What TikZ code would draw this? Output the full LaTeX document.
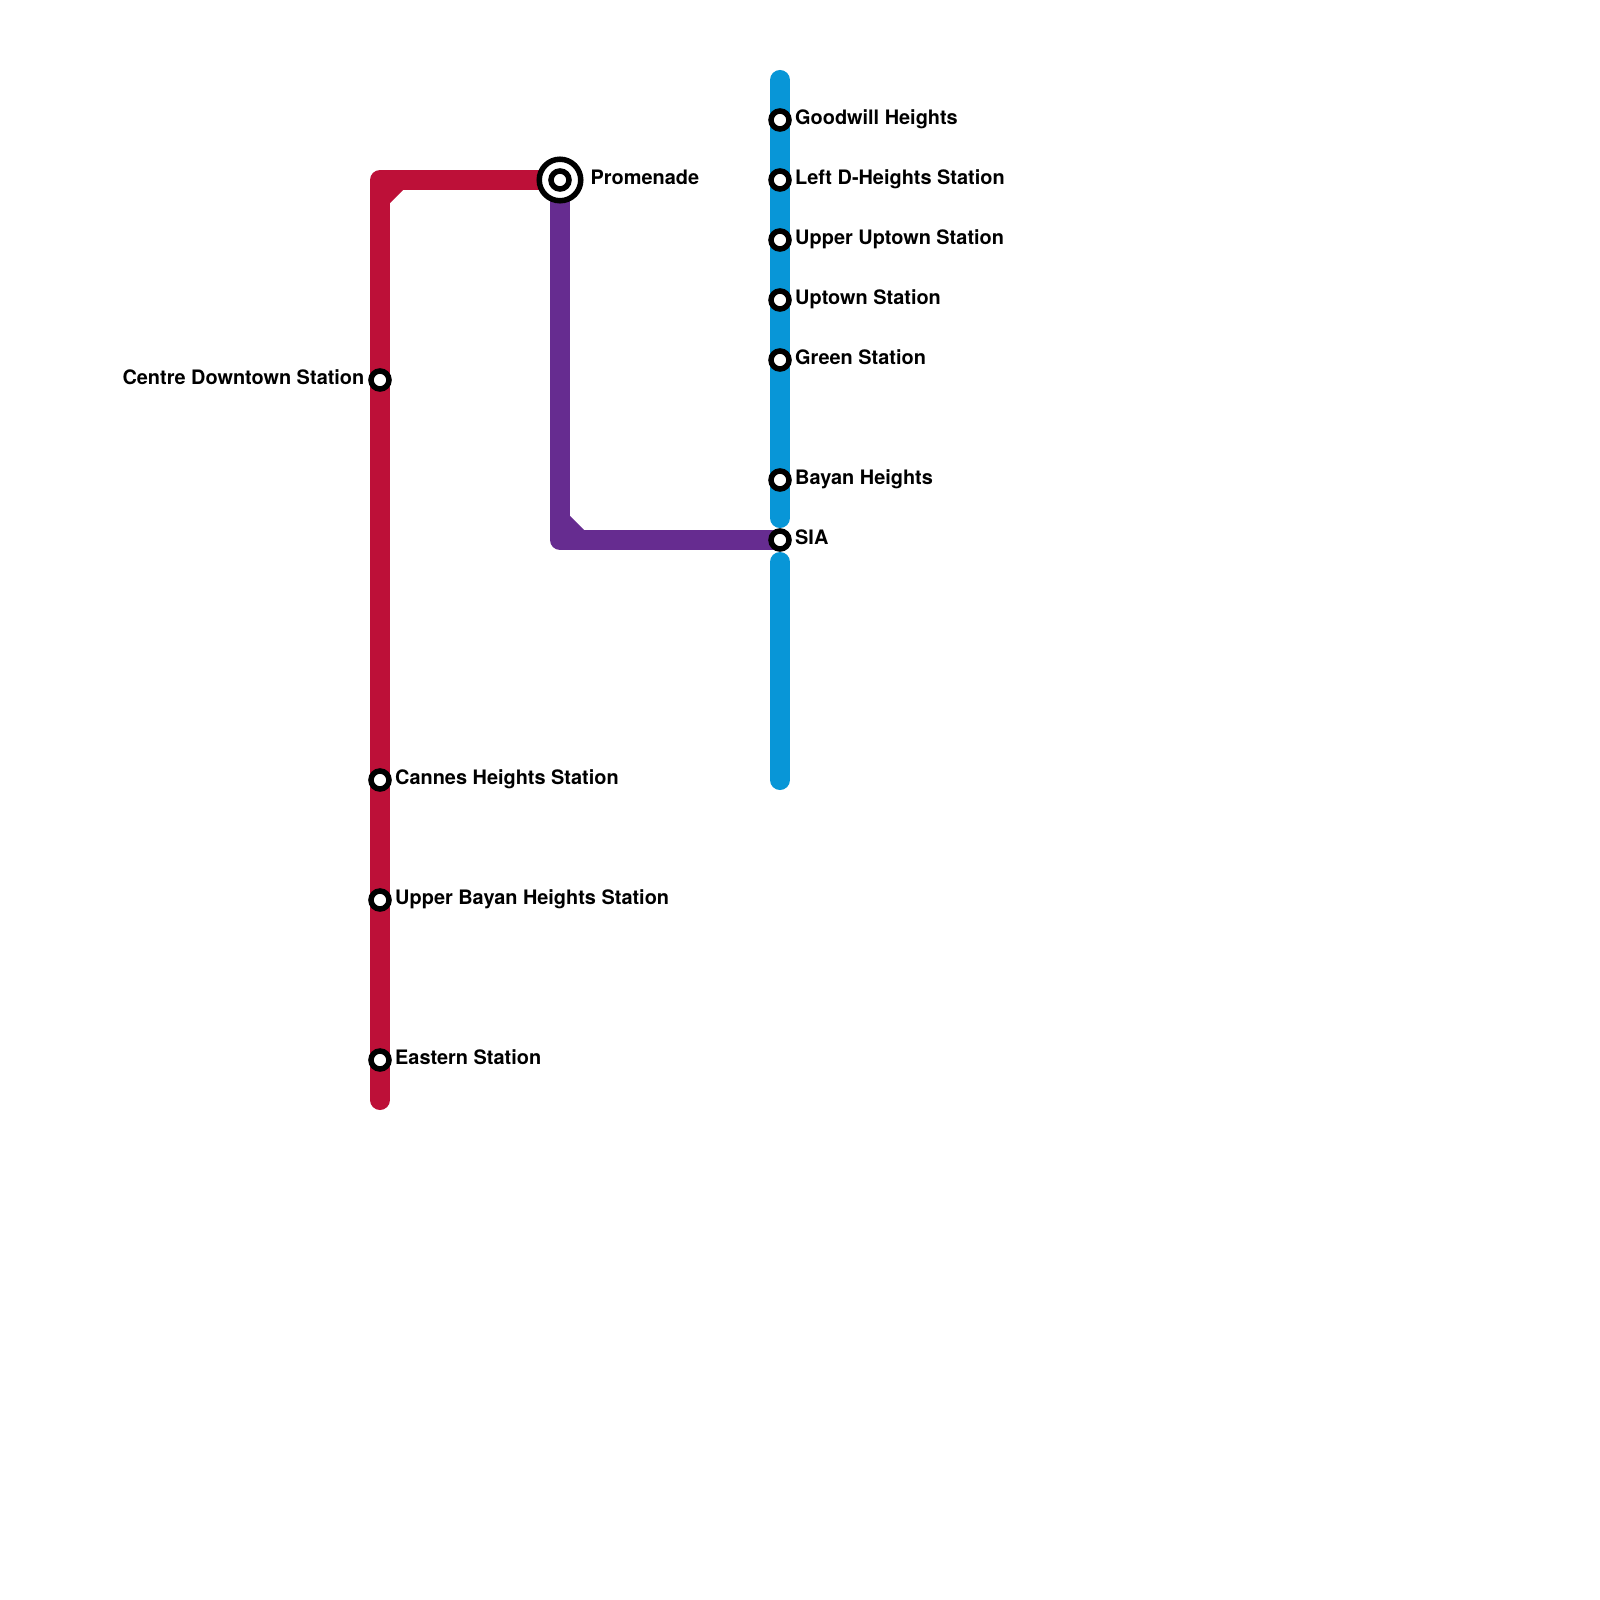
\documentclass[tikz,border=0pt]{standalone}
\usepackage{fontspec}
\setmainfont{TeX Gyre Heros}
\usepackage{xcolor}
\usetikzlibrary{backgrounds}
\definecolor{redline}{HTML}{BD1038}
\definecolor{purpleline}{HTML}{662C90}
\definecolor{blueline}{HTML}{0896D7}
\tikzset{
  stop/.style={circle, draw=black, fill=white, line width=0.055cm, minimum size=0.18cm, inner sep=0pt, outer sep=0pt},
  hub/.style={circle, draw=black, fill=white, line width=0.055cm, minimum size=0.415cm, inner sep=0pt, outer sep=0pt},
  rail/.style={line width=0.2cm, line cap=round, line join=round},
  namer/.style={font=\bfseries\fontsize{5.66}{7}\selectfont, text=black, inner sep=0pt, anchor=base west},
  namel/.style={font=\bfseries\fontsize{5.66}{7}\selectfont, text=black, inner sep=0pt, anchor=base east}
}
\begin{document}
\begin{tikzpicture}[x=0.01cm, y=-0.01cm]
  \useasboundingbox (0,0) rectangle (1600,1600);
  % Red line stops
  \node[stop] (centre) at (380,380) {};
  \node[stop] (cannes) at (380,780) {};
  \node[stop] (bayanup) at (380,900) {};
  \node[stop] (eastern) at (380,1060) {};
  \node[namel] (centretxt) at (365,384.5) {Centre Downtown Station};
  \node[namer] (cannestxt) at (394.5,784.5) {Cannes Heights Station};
  \node[namer] (bayanuptxt) at (394.5,904.5) {Upper Bayan Heights Station};
  \node[namer] (easterntxt) at (394.5,1064.5) {Eastern Station};
  % Interchange
  \node[hub] (promenade) at (560,180) {};
  \node[stop] (promcore) at (560,180) {};
  \node[namer] (promtxt) at (590,184.5) {Promenade};
  % Blue line stops
  \node[stop] (goodwill) at (780,120) {};
  \node[stop] (leftd) at (780,180) {};
  \node[stop] (upuptown) at (780,240) {};
  \node[stop] (uptown) at (780,300) {};
  \node[stop] (green) at (780,360) {};
  \node[stop] (bayan) at (780,480) {};
  \node[stop] (sia) at (780,540) {};
  \node[namer] (goodwilltxt) at (794.5,124.5) {Goodwill Heights};
  \node[namer] (leftdtxt) at (794.5,184.5) {Left D-Heights Station};
  \node[namer] (upuptowntxt) at (794.5,244.5) {Upper Uptown Station};
  \node[namer] (uptowntxt) at (794.5,304.5) {Uptown Station};
  \node[namer] (greentxt) at (794.5,364.5) {Green Station};
  \node[namer] (bayantxt) at (794.5,484.5) {Bayan Heights};
  \node[namer] (siatxt) at (794.5,544.5) {SIA};
  % Line ends and corners
  \coordinate (redend) at (380,1100);
  \coordinate (redturn) at (380,180);
  \coordinate (purpleturn) at (560,540);
  \coordinate (bluetop) at (780,80);
  \coordinate (bluemidup) at (780,518);
  \coordinate (bluemiddown) at (780,562);
  \coordinate (blueend) at (780,780);
  \begin{scope}[on background layer]
    % Blue line
    \draw[rail, blueline] (bluetop) -- (bluemidup);
    \draw[rail, blueline] (bluemiddown) -- (blueend);
    % Red line
    \draw[rail, redline] (redend) -- (redturn) -- (promenade.center);
    \fill[redline] (389,189) -- (389,204) -- (404,189) -- cycle;
    % Purple line
    \draw[rail, purpleline] (promenade.center) -- (purpleturn) -- (sia.center);
    \fill[purpleline] (569,531) -- (569,515) -- (585,531) -- cycle;
  \end{scope}
\end{tikzpicture}
\end{document}
